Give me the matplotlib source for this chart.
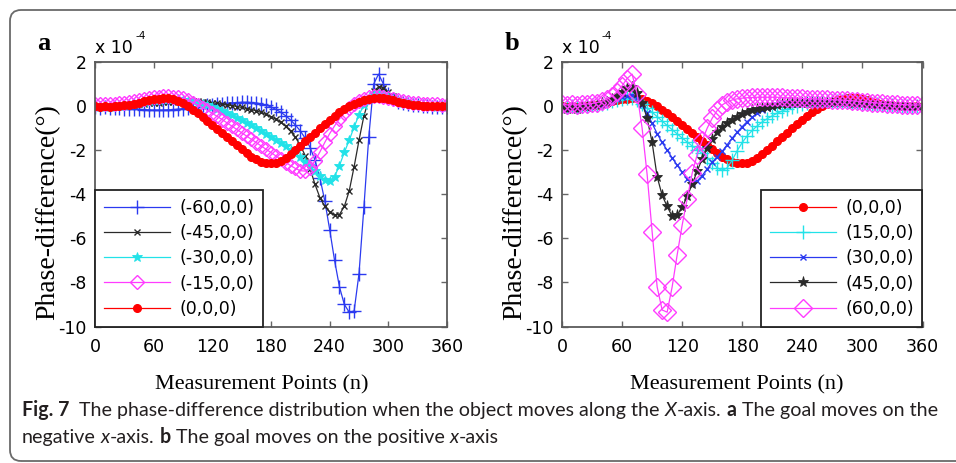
import matplotlib
matplotlib.use("Agg")
import matplotlib.pyplot as plt
import numpy as np
from matplotlib.patches import FancyBboxPatch
from matplotlib.transforms import IdentityTransform

plt.rcParams["axes.unicode_minus"] = False

W, H = 956, 463

# measurement points (every 5th point), phase differences in units of 1e-4 deg
n = np.arange(0, 361, 5)

red_000 = [0.00, -0.03, 0.00, -0.02, 0.00, 0.02, 0.03, 0.06, 0.10, 0.16,
           0.22, 0.27, 0.31, 0.34, 0.35, 0.35, 0.32, 0.25, 0.13, -0.01,
           -0.16, -0.33, -0.50, -0.68, -0.86, -1.04, -1.22, -1.40, -1.58, -1.77,
           -1.96, -2.13, -2.29, -2.42, -2.52, -2.58, -2.60, -2.58, -2.50, -2.36,
           -2.19, -2.00, -1.80, -1.60, -1.40, -1.20, -1.00, -0.80, -0.61, -0.43,
           -0.27, -0.13, -0.01, 0.10, 0.20, 0.28, 0.34, 0.37, 0.37, 0.35,
           0.31, 0.26, 0.20, 0.15, 0.10, 0.07, 0.04, 0.02, 0.00, -0.01,
           0.00, -0.01, 0.00]

a_m15 = [0.10, 0.08, 0.10, 0.08, 0.10, 0.12, 0.14, 0.18, 0.22, 0.28,
         0.33, 0.38, 0.41, 0.43, 0.44, 0.44, 0.43, 0.40, 0.35, 0.27,
         0.16, 0.05, -0.07, -0.20, -0.33, -0.47, -0.61, -0.76, -0.91, -1.06,
         -1.21, -1.36, -1.51, -1.66, -1.81, -1.96, -2.11, -2.26, -2.41, -2.56,
         -2.70, -2.83, -2.93, -2.95, -2.80, -2.48, -2.08, -1.65, -1.25, -0.90,
         -0.58, -0.32, -0.10, 0.08, 0.22, 0.33, 0.41, 0.45, 0.45, 0.42,
         0.38, 0.32, 0.26, 0.21, 0.17, 0.14, 0.12, 0.10, 0.09, 0.08,
         0.08, 0.07, 0.07]

a_m30 = [0.00, -0.05, 0.00, -0.05, 0.00, 0.02, 0.05, 0.08, 0.12, 0.16,
         0.20, 0.23, 0.26, 0.28, 0.30, 0.31, 0.31, 0.30, 0.28, 0.25,
         0.21, 0.16, 0.10, 0.03, -0.05, -0.13, -0.22, -0.32, -0.42, -0.53,
         -0.64, -0.76, -0.88, -1.00, -1.12, -1.25, -1.38, -1.52, -1.66, -1.82,
         -1.98, -2.15, -2.33, -2.52, -2.72, -2.95, -3.18, -3.35, -3.40, -3.20,
         -2.70, -2.10, -1.55, -0.95, -0.40, 0.05, 0.36, 0.55, 0.58, 0.50,
         0.40, 0.30, 0.22, 0.16, 0.12, 0.08, 0.05, 0.03, 0.01, 0.00,
         -0.02, 0.00, -0.02]

a_m45 = [0.00, -0.05, 0.00, -0.04, 0.00, 0.00, 0.02, 0.04, 0.06, 0.08,
         0.10, 0.12, 0.14, 0.16, 0.18, 0.19, 0.20, 0.21, 0.22, 0.22,
         0.22, 0.21, 0.20, 0.18, 0.15, 0.12, 0.08, 0.05, 0.02, -0.02,
         -0.06, -0.11, -0.16, -0.22, -0.29, -0.38, -0.48, -0.60, -0.74, -0.92,
         -1.14, -1.42, -1.78, -2.25, -2.85, -3.55, -4.15, -4.55, -4.80, -4.95,
         -4.92, -4.55, -3.85, -2.75, -1.55, -0.45, 0.30, 0.70, 0.86, 0.80,
         0.62, 0.45, 0.32, 0.22, 0.15, 0.10, 0.07, 0.04, 0.02, 0.00,
         -0.02, 0.00, -0.02]

a_m60 = [-0.05, -0.08, -0.05, -0.10, -0.08, -0.10, -0.12, -0.12, -0.14, -0.15,
         -0.16, -0.17, -0.18, -0.18, -0.18, -0.17, -0.16, -0.14, -0.12, -0.09,
         -0.06, -0.03, 0.00, 0.03, 0.06, 0.09, 0.11, 0.13, 0.15, 0.16,
         0.17, 0.17, 0.16, 0.14, 0.10, 0.04, -0.04, -0.15, -0.28, -0.44,
         -0.63, -0.86, -1.13, -1.46, -1.88, -2.45, -3.25, -4.30, -5.60, -7.00,
         -8.20, -9.00, -9.35, -9.30, -7.60, -4.60, -1.40, 1.00, 1.45, 1.00,
         0.55, 0.32, 0.20, 0.12, 0.08, 0.05, 0.03, 0.01, 0.00, -0.02,
         -0.02, -0.03, -0.02]

b_15 = [0.00, -0.03, 0.00, -0.03, 0.00, 0.02, 0.04, 0.07, 0.10, 0.15,
        0.21, 0.28, 0.34, 0.38, 0.36, 0.26, 0.10, -0.08, -0.28, -0.48,
        -0.68, -0.88, -1.07, -1.26, -1.45, -1.63, -1.81, -1.98, -2.15, -2.35,
        -2.58, -2.80, -2.92, -2.80, -2.45, -2.02, -1.65, -1.35, -1.10, -0.90,
        -0.72, -0.57, -0.44, -0.32, -0.22, -0.13, -0.05, 0.02, 0.08, 0.13,
        0.17, 0.20, 0.22, 0.23, 0.24, 0.24, 0.23, 0.22, 0.20, 0.18,
        0.15, 0.12, 0.10, 0.08, 0.06, 0.04, 0.03, 0.02, 0.01, 0.00,
        -0.02, 0.00, -0.02]

b_30 = [-0.05, -0.10, -0.05, -0.10, -0.06, -0.05, -0.02, 0.02, 0.07, 0.13,
        0.21, 0.30, 0.40, 0.48, 0.50, 0.35, 0.05, -0.32, -0.78, -1.25,
        -1.65, -2.00, -2.35, -2.68, -3.00, -3.30, -3.48, -3.40, -3.15, -2.85,
        -2.55, -2.30, -2.05, -1.75, -1.45, -1.18, -0.93, -0.70, -0.50, -0.33,
        -0.20, -0.10, -0.02, 0.04, 0.08, 0.11, 0.13, 0.15, 0.16, 0.17,
        0.18, 0.18, 0.18, 0.18, 0.17, 0.16, 0.15, 0.14, 0.13, 0.12,
        0.10, 0.08, 0.07, 0.06, 0.05, 0.04, 0.02, 0.01, 0.00, -0.01,
        -0.02, -0.01, -0.02]

b_45 = [-0.05, -0.12, -0.05, -0.12, -0.06, -0.05, 0.00, 0.05, 0.12, 0.20,
        0.30, 0.45, 0.62, 0.80, 0.86, 0.60, 0.15, -0.55, -1.65, -3.20,
        -4.05, -4.55, -5.00, -4.95, -4.60, -4.10, -3.55, -2.95, -2.40, -1.90,
        -1.50, -1.18, -0.95, -0.78, -0.62, -0.48, -0.37, -0.28, -0.20, -0.13,
        -0.07, -0.02, 0.02, 0.05, 0.08, 0.10, 0.12, 0.13, 0.14, 0.15,
        0.15, 0.15, 0.15, 0.15, 0.14, 0.14, 0.13, 0.12, 0.11, 0.10,
        0.09, 0.08, 0.07, 0.06, 0.05, 0.04, 0.03, 0.02, 0.01, 0.00,
        -0.02, -0.01, -0.02]

b_60 = [0.10, 0.05, 0.10, 0.05, 0.08, 0.10, 0.12, 0.16, 0.22, 0.32,
        0.45, 0.65, 0.92, 1.25, 1.45, 0.55, -1.00, -3.10, -5.70, -8.20,
        -9.25, -9.35, -8.20, -6.75, -5.40, -4.20, -3.05, -2.20, -1.55, -1.00,
        -0.55, -0.20, 0.05, 0.20, 0.28, 0.33, 0.36, 0.38, 0.39, 0.40,
        0.40, 0.40, 0.40, 0.40, 0.39, 0.38, 0.37, 0.36, 0.35, 0.34,
        0.33, 0.32, 0.31, 0.30, 0.29, 0.28, 0.27, 0.26, 0.24, 0.22,
        0.20, 0.18, 0.16, 0.14, 0.12, 0.10, 0.09, 0.08, 0.07, 0.06,
        0.05, 0.05, 0.05]

labels_a = ["(-60,0,0)", "(-45,0,0)", "(-30,0,0)", "(-15,0,0)", "(0,0,0)"]
labels_b = ["(0,0,0)", "(15,0,0)", "(30,0,0)", "(45,0,0)", "(60,0,0)"]
xticks = [0, 60, 120, 180, 240, 300, 360]
yticks = [2, 0, -2, -4, -6, -8, -10]

# line styles
BLUE, BLACK, CYAN, PINK, RED = "#2b3af0", "#2a2a2a", "#22e2e8", "#ff3cff", "#ff0000"
sty_plus = dict(color=BLUE, marker="+", ms=10, mew=1.0)
sty_x = dict(color=BLACK, marker="x", ms=5, mew=1.0)
sty_star = dict(color=CYAN, marker="*", ms=7, mew=0.6)
sty_dia = dict(color=PINK, marker="D", ms=7, mfc="none", mew=1.0)
sty_dot = dict(color=RED, marker="o", ms=5.5, mec=RED)

series_a = [(a_m60, sty_plus), (a_m45, sty_x), (a_m30, sty_star),
            (a_m15, sty_dia), (red_000, sty_dot)]
series_b = [(red_000, sty_dot), (b_15, dict(sty_plus, color=CYAN)),
            (b_30, dict(sty_x, color=BLUE)), (b_45, dict(sty_star, color=BLACK, ms=8)),
            (b_60, dict(sty_dia, ms=9))]

SANS = "DejaVu Sans"
SERIF = "Liberation Serif"
CAP_FONT = "Lato"

fig = plt.figure(figsize=(W / 100, H / 100), dpi=100)


def px(x, y):
    return x / W, 1 - y / H


def panel(left, right, top, bottom, series, labels, loc, tag, tag_x, xlab_x):
    ax = fig.add_axes([left / W, 1 - bottom / H, (right - left) / W, (bottom - top) / H])
    for (vals, st), lab in zip(series, labels):
        ax.plot(n, vals, lw=0.9, label=lab, **st)
    ax.set_xlim(0, 360)
    ax.set_ylim(-10, 2)
    ax.set_xticks(xticks)
    ax.set_yticks(yticks)
    ax.tick_params(direction="in", length=4, width=1, top=True, right=True,
                   color="#666666", labelsize=12.5, labelcolor="black")
    ax.tick_params(axis="x", pad=8)
    ax.tick_params(axis="y", pad=6)
    for lab in ax.get_xticklabels() + ax.get_yticklabels():
        lab.set_family(SANS)
    for s in ax.spines.values():
        s.set_color("#5a5a5a")
        s.set_linewidth(1.3)
    leg = ax.legend(loc=loc, borderaxespad=0, prop={"family": SANS, "size": 12.5},
                    fancybox=False, framealpha=1, edgecolor="#222222", borderpad=0.5,
                    handlelength=3.8, handletextpad=0.55, labelspacing=0.42, numpoints=1)
    leg.get_frame().set_linewidth(1.3)

    fig.text(*px(xlab_x, 389), "Measurement Points (n)", ha="center", va="baseline",
             family=SERIF, fontsize=16)
    fig.text(*px(left - 47, 212), "Phase-difference(°)", ha="center",
             va="center", rotation=90, family=SERIF, fontsize=20)
    fig.text(*px(left, 53), "x 10", ha="left", va="baseline", family=SANS, fontsize=12.5)
    fig.text(*px(left + 40, 39), "-4", ha="left", va="baseline", family=SANS, fontsize=7.5)
    fig.text(*px(tag_x, 50), tag, ha="left", va="baseline", family=SERIF,
             fontweight="bold", fontsize=19)
    return ax


panel(95, 447, 62, 326.5, series_a, labels_a, "lower left", "a", 37, 262)
panel(562, 922.5, 62, 326.5, series_b, labels_b, "lower right", "b", 505, 737)

# rounded frame around the figure, running off the right edge
frame = FancyBboxPatch((10, 2), 1000, 451, boxstyle="round,pad=0,rounding_size=11",
                       transform=IdentityTransform(), facecolor="none",
                       edgecolor="#6a6a6a", linewidth=1.3)
fig.add_artist(frame)

# caption with mixed styles
renderer = fig.canvas.get_renderer()
line1 = [("Fig. 7", "bold", "normal"), ("gap", None, None), ("The phase-difference distribution when the object moves along the", "normal", "normal"),
         ("sp", None, None), ("X", "normal", "italic"), ("-axis.", "normal", "normal"), ("sp", None, None),
         ("a", "bold", "normal"), ("sp", None, None), ("The goal moves on the", "normal", "normal")]
line2 = [("negative", "normal", "normal"), ("sp", None, None), ("x", "normal", "italic"),
         ("-axis.", "normal", "normal"), ("sp", None, None), ("b", "bold", "normal"), ("sp", None, None),
         ("The goal moves on the positive", "normal", "normal"), ("sp", None, None),
         ("x", "normal", "italic"), ("-axis", "normal", "normal")]


def text_w(s, size, weight="normal", style="normal"):
    t = fig.text(0, 0, s, fontsize=size, family=CAP_FONT, fontweight=weight, fontstyle=style)
    w = t.get_window_extent(renderer).width
    t.remove()
    return w


def run_width(runs, size):
    sp = text_w("a a", size) - text_w("aa", size)
    total = 0
    for s, wt, st in runs:
        if s == "sp":
            total += sp
        elif s == "gap":
            total += 2 * sp
        else:
            total += text_w(s, size, wt, st)
    return total, sp


size = 12
w1, _ = run_width(line1, size)
size = size * (934 - 22) / w1


def draw_runs(runs, x0, yb):
    _, sp = run_width(runs, size)
    x = x0
    for s, wt, st in runs:
        if s == "sp":
            x += sp
        elif s == "gap":
            x += 2 * sp
        else:
            t = fig.text(*px(x, yb), s, fontsize=size, family=CAP_FONT, fontweight=wt,
                         fontstyle=st, va="baseline", ha="left", color="#231f20")
            x += t.get_window_extent(renderer).width


draw_runs(line1, 22, 416)
draw_runs(line2, 22, 443)

fig.savefig("out.png", dpi=100)
